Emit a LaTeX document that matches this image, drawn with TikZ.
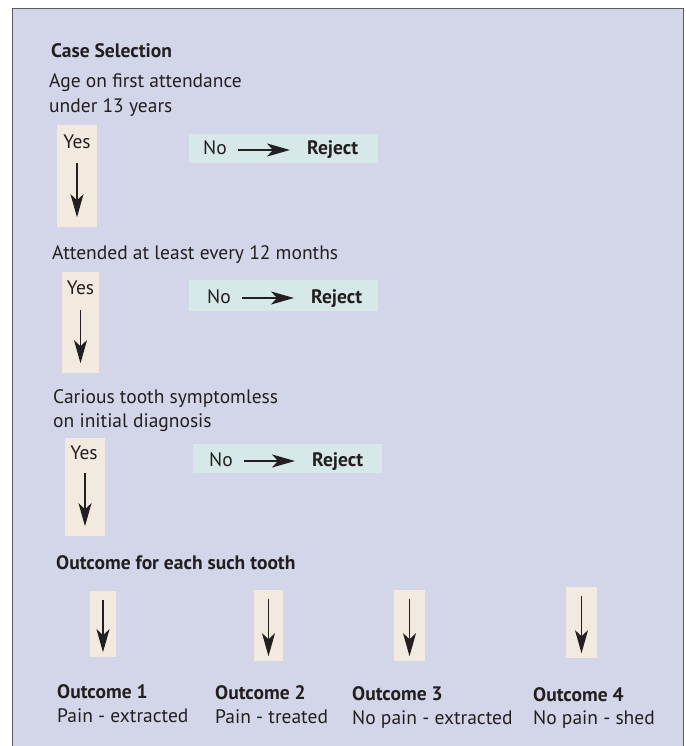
\documentclass[tikz,border=0pt]{standalone}
\usepackage{fontspec}
\setmainfont{PT Sans}
\usetikzlibrary{arrows.meta,positioning}
\definecolor{panelbg}{HTML}{D3D6E8}
\definecolor{yesfill}{HTML}{F3EADF}
\definecolor{nofill}{HTML}{D6E9E8}
\definecolor{ink}{HTML}{231F20}
\definecolor{framegray}{HTML}{5A5B5E}

\begin{document}
\begin{tikzpicture}[
  x=1pt, y=-1pt,
  txt/.style={anchor=base west, inner sep=0pt, text height=13pt, text depth=3pt, text=ink, font=\fontsize{19.5}{23}\selectfont},
  hd/.style={txt, font=\fontsize{19.5}{23}\selectfont\bfseries},
  yesbox/.style={fill=yesfill, inner sep=0pt},
  nobox/.style={fill=nofill, inner sep=0pt, minimum width=189pt},
  arr/.style={-{Stealth[length=23pt,width=13pt,inset=6pt]}, line width=1.5pt, draw=ink}
]
\useasboundingbox (0,0) rectangle (685,746);
% panel
\fill[panelbg] (12,9) rectangle (683,746);
\draw[framegray, line width=1pt] (12,746) -- (12,9) -- (683,9) -- (683,746);

% step 1
\node[hd] (title) at (51,58) {Case Selection};
\node[txt] (age) at (49,88) {Age on first attendance};
\node[txt] (age2) at (49,113) {under 13 years};
\node[yesbox, minimum width=40pt, minimum height=102pt] (yes1) at (77,176) {};
\node[txt, anchor=base] (yl1) at (77,149) {Yes};
\node[nobox, minimum height=29pt] (rbox1) at (283.5,148.5) {};
\node[txt] (no1) at (203,155) {No};
\node[hd] (rej1) at (307,155) {Reject};
\draw[arr] ([yshift=-38pt]yes1.north) -- ([yshift=10pt]yes1.south);
\draw[arr, shorten <=11pt, shorten >=17pt] (no1) -- (rej1);

% step 2
\node[txt] (att) at (52,259) {Attended at least every 12 months};
\node[yesbox, minimum width=37pt, minimum height=101pt] (yes2) at (80.5,322.5) {};
\node[txt, anchor=base] (yl2) at (80.5,294) {Yes};
\node[nobox, minimum height=31pt] (rbox2) at (283.5,295.5) {};
\node[txt] (no2) at (207,303) {No};
\node[hd] (rej2) at (311,303) {Reject};
\draw[arr] ([yshift=-38pt]yes2.north) -- ([yshift=10pt]yes2.south);
\draw[arr, shorten <=11pt, shorten >=17pt] (no2) -- (rej2);

% step 3
\node[txt] (car) at (53,403) {Carious tooth symptomless};
\node[txt] (car2) at (53,427) {on initial diagnosis};
\node[yesbox, minimum width=40pt, minimum height=98pt] (yes3) at (85,487) {};
\node[txt, anchor=base] (yl3) at (84,459) {Yes};
\node[nobox, minimum height=29pt] (rbox3) at (287.5,458.5) {};
\node[txt] (no3) at (209,466) {No};
\node[hd] (rej3) at (312,466) {Reject};
\draw[arr] ([yshift=-35pt]yes3.north) -- ([yshift=10pt]yes3.south);
\draw[arr, shorten <=11pt, shorten >=17pt] (no3) -- (rej3);

% outcomes
\node[hd] (otitle) at (56,569) {Outcome for each such tooth};
\node[yesbox, minimum width=26pt, minimum height=66pt] (ob1) at (103,624) {};
\node[yesbox, minimum width=29pt, minimum height=71pt] (ob2) at (268.5,625.5) {};
\node[yesbox, minimum width=31pt, minimum height=71pt] (ob3) at (409.5,625.5) {};
\node[yesbox, minimum width=31pt, minimum height=71pt] (ob4) at (581.5,622.5) {};
\foreach \b in {ob1,ob2,ob3,ob4}
  \draw[arr] ([yshift=-9pt]\b.north) -- ([yshift=5pt]\b.south);

\node[hd] (oc1) at (57,698) {Outcome 1};
\node[txt] (od1) at (57,722) {Pain - extracted};
\node[hd] (oc2) at (215,699) {Outcome 2};
\node[txt] (od2) at (215,723) {Pain - treated};
\node[hd] (oc3) at (352,700) {Outcome 3};
\node[txt] (od3) at (352,724) {No pain - extracted};
\node[hd] (oc4) at (533,701) {Outcome 4};
\node[txt] (od4) at (533,724) {No pain - shed};
\end{tikzpicture}
\end{document}
